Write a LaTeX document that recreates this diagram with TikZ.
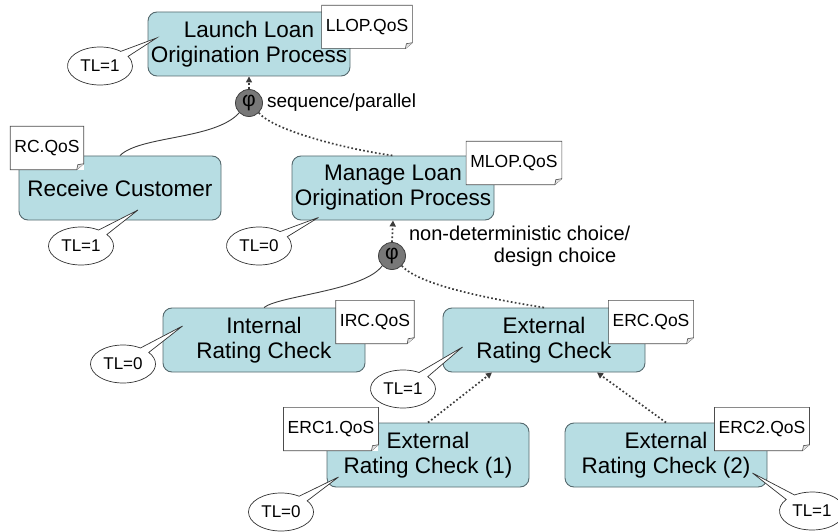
\documentclass[tikz,border=0pt]{standalone}
\usepackage{fontspec}
\setmainfont{Liberation Sans}
\usetikzlibrary{arrows.meta, shapes.callouts, positioning}

\definecolor{taskfill}{RGB}{183,221,227}
\definecolor{taskline}{RGB}{85,105,110}
\definecolor{opgray}{RGB}{120,120,120}
\definecolor{linegray}{RGB}{60,60,60}

\begin{document}
\begin{tikzpicture}[x=1pt, y=-1pt,
    task/.style={draw=taskline, fill=taskfill, line width=0.9pt, rounded corners=9pt,
        minimum width=202pt, minimum height=64pt, inner sep=1pt, align=center,
        font=\fontsize{22.5}{25}\selectfont},
    qos/.style={fill=white, inner xsep=4pt, minimum height=43pt, font=\fontsize{17.5}{20}\selectfont},
    qosline/.style={draw=black!70, line width=0.6pt},
    tlcall/.style={ellipse callout, callout pointer arc=20, draw=black!80, fill=white, line width=0.7pt,
        inner sep=0pt, minimum width=65pt, minimum height=38pt, font=\fontsize{17}{20}\selectfont},
    op/.style={circle, draw=black!75, fill=opgray, line width=0.8pt, minimum size=27pt, inner sep=0pt,
        font=\fontsize{21}{21}\selectfont},
    oplbl/.style={inner sep=0pt, font=\fontsize{19}{22}\selectfont},
    seqline/.style={draw=linegray, line width=0.9pt},
    optline/.style={draw=linegray, line width=1.7pt, dash pattern=on 1.7pt off 2.3pt},
    toparent/.style={-{Triangle[length=6pt, width=6pt]}}]

    \useasboundingbox (0, 0) rectangle (838, 532); % bounding box

    % tasks
    \node at (249,  44) [task] (llop) {Launch Loan\\Origination Process};
    \node at (120, 188) [task] (rc)   {Receive Customer};
    \node at (393, 188) [task] (mlop) {Manage Loan\\Origination Process};
    \node at (264, 340) [task] (irc)  {Internal\\Rating Check};
    \node at (544, 340) [task] (erc)  {External\\Rating Check};
    \node at (428, 455) [task] (erc1) {External\\Rating Check (1)};
    \node at (666, 455) [task] (erc2) {External\\Rating Check (2)};

    % composition operators
    \node at (249, 103) [op] (phi1) {φ};
    \node at (392, 256) [op] (phi2) {φ};

    % operator labels
    \node [right=4pt of phi1, oplbl] (seqlbl) {sequence/parallel};
    \node at ([xshift=7]phi2.north east) [anchor=west, oplbl, font=\fontsize{20}{22}\selectfont, align=right] (choicelbl)
        {non-deterministic choice/\\design choice\hspace*{14pt}};

    % decomposition
    \draw [seqline] (rc.north) .. controls +(20, -20) and +(-24, 27) .. (phi1.south west);
    \draw [optline] (phi1.south east) .. controls +(15, 18) and +(-45, -6) .. (mlop.north);
    \draw [optline, toparent] (phi1.north) -- (llop.south);

    \draw [seqline] (irc.north) .. controls +(15, -12) and +(-18, 25) .. (phi2.south west);
    \draw [optline] (phi2.south east) .. controls +(18, 20) and +(-50, -8) .. (erc.north);
    \draw [optline, toparent] (phi2.north) -- (mlop.south);

    % refinements of the external check
    \draw [optline, toparent] (erc1.north) -- ([xshift=-52]erc.south);
    \draw [optline, toparent] (erc2.north) -- ([xshift= 53]erc.south);

    % QoS notes
    \node at (367,  27) [qos] (llopq) {LLOP.QoS};
    \node at ( 47, 148) [qos] (rcq)   {RC.QoS};
    \node at (514, 163) [qos] (mlopq) {MLOP.QoS};
    \node at (375, 322) [qos] (ircq)  {IRC.QoS};
    \node at (651, 322) [qos] (ercq)  {ERC.QoS};
    \node at (331, 429) [qos] (erc1q) {ERC1.QoS};
    \node at (762, 429) [qos] (erc2q) {ERC2.QoS};

    \foreach \n in {llopq, rcq, mlopq, ircq, ercq, erc1q, erc2q} {
        \draw [qosline] (\n.north west) -- (\n.north east) -- ([shift={(0, -6)}]\n.south east)
            -- ([shift={(-7, 0)}]\n.south east) -- (\n.south west) -- cycle;
        \filldraw [qosline, fill=black!12] ([shift={(0, -6)}]\n.south east)
            -- ([shift={(-6, -5)}]\n.south east) -- ([shift={(-7, 0)}]\n.south east);
    }

    % trust levels
    \node at (100,  66) [tlcall, callout absolute pointer={([shift={(  9,  -6)}]llop.west)}]       (llopt) {TL=1};
    \node at ( 81, 246) [tlcall, callout absolute pointer={([shift={( 18,  22)}]rc.center)}]       (rct)   {TL=1};
    \node at (259, 246) [tlcall, callout absolute pointer={([shift={( 27,  -3)}]mlop.south west)}] (mlopt) {TL=0};
    \node at (123, 364) [tlcall, callout absolute pointer={([shift={( 20, -14)}]irc.west)}]        (irct)  {TL=0};
    \node at (403, 389) [tlcall, callout absolute pointer={([shift={( 20,   7)}]erc.west)}]        (erct)  {TL=1};
    \node at (281, 512) [tlcall, callout absolute pointer={([shift={( 12,  22)}]erc1.west)}]       (erc1t) {TL=0};
    \node at (812, 511) [tlcall, callout absolute pointer={([shift={(-15,  18)}]erc2.east)}]       (erc2t) {TL=1};
\end{tikzpicture}
\end{document}
